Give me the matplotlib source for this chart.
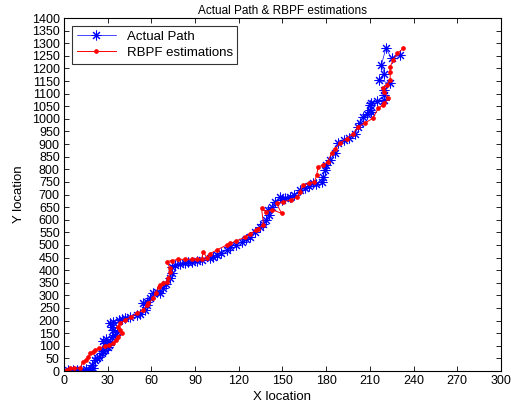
import matplotlib
matplotlib.use("Agg")
import matplotlib.pyplot as plt
import numpy as np

plt.rcParams['font.family'] = ['Liberation Sans', 'DejaVu Sans']

actual_x = [0, 3, 6, 9, 12, 15, 17, 19, 20, 21, 23, 24, 26, 27, 28.5, 30, 31, 28, 27, 29,
            31.6, 33, 35, 36.4, 34, 33, 31.8, 34, 37.5, 40, 42, 45.5, 50, 52, 55.6, 57, 54, 57,
            59, 61, 63.6, 66, 68, 70, 72.8, 74, 74, 76, 80, 83, 85, 88, 91, 95, 100, 102.5,
            105, 108, 111.7, 114, 118, 122, 125, 127.7, 131, 134.5, 137, 139, 141, 140, 142.5,
            145, 148, 150, 152, 155, 158, 162, 165.5, 168, 171, 173, 177, 178, 179, 180, 182.6,
            186, 188, 192, 196, 200, 202, 203, 205.5, 208, 210, 211, 210, 211, 215, 220, 220,
            220, 224, 216, 220, 218, 221, 225, 230.6]
actual_y = [0, 4, 2, 4, 3, 6, 4, 24, 12, 44, 52, 57, 71, 80, 83, 95, 103, 111, 120, 125,
            116, 136, 143, 156, 163, 176, 190, 195, 202, 205, 209, 215, 222, 226, 242, 262, 270, 275,
            290, 308, 315, 308, 328, 345, 368, 387, 413, 420, 425, 427, 433, 432, 437, 440, 448, 453,
            460, 470, 480, 493, 500, 513, 522, 532, 552, 572, 585, 599, 619, 639, 652,
            670, 691, 680, 688, 691, 700, 718, 725, 735, 744, 740, 751, 771, 797, 817, 837,
            863, 903, 915, 925, 942, 969, 982, 1009, 1020, 1035, 1029, 1055, 1062, 1070, 1075, 1095,
            1115, 1141, 1154, 1180, 1214, 1280, 1240, 1253]

est_x = [0, 2, 4, 7, 11, 13, 15, 16.7, 18, 20, 21, 24, 28, 31, 34, 36, 37, 39.6, 38.4, 37,
         38.4, 42, 46, 50, 54.4, 57, 58, 61, 63, 65, 66, 68, 70.5, 71.6, 72.8, 72.8, 70.5, 74,
         78.5, 83, 87.6, 91, 94.5, 95.6, 98, 100, 105, 111.7, 114, 118, 124, 128, 132, 133, 137,
         135.7, 139, 143, 149.4, 146, 150.5, 156, 160, 162, 164, 168, 172, 173.5, 174.6, 178,
         181, 183.7, 186, 189.5, 194, 198.6, 202, 207, 212, 215.8, 219, 220, 222.6, 220, 219,
         221.5, 224, 224, 224, 226, 229, 233]
est_y = [0, 5, 12, 10, 12, 37, 45, 57, 70, 77, 83, 90, 98, 104, 110, 123, 136, 150, 163, 176,
         189, 202, 215, 229, 242, 262, 268, 288, 310, 334, 340, 348, 354, 368, 394, 407, 434, 438,
         443, 443, 443, 443, 443, 473, 450, 465, 480, 500, 506, 515, 530, 545, 559, 565, 579,
         645, 632, 640, 625, 665, 672, 678, 690, 710, 738, 744, 751, 777, 810, 817,
         830, 863, 880, 903, 922, 942, 969, 985, 1002, 1042, 1055, 1062, 1081, 1108, 1121,
         1134, 1154, 1187, 1207, 1233, 1260, 1280]

x_ticks = list(range(0, 301, 30))
y_ticks = list(range(0, 1401, 50))

fig = plt.figure(figsize=(5.11, 4.09), dpi=100)
ax = fig.add_axes([0.1252, 0.0929, 0.855, 0.863])

ax.plot(actual_x, actual_y, '-', color=(0, 0, 1), lw=0.5, marker=(8, 2, 0), ms=7, mew=0.75,
        label='Actual Path')
ax.plot(est_x, est_y, '-o', color=(1, 0, 0), lw=0.7, ms=2.8, mew=0.5,
        label='RBPF estimations')

ax.set_xlim(0, 300)
ax.set_ylim(0, 1400)
ax.set_xticks(x_ticks)
ax.set_yticks(y_ticks)
ax.tick_params(direction='in', top=True, right=True, labelsize=9, length=3.5, width=0.6,
               pad=3)
for s in ax.spines.values():
    s.set_linewidth(0.8)

ax.set_title('Actual Path & RBPF estimations', fontsize=8.5, pad=3)
ax.set_xlabel('X location', fontsize=9.5, labelpad=3)
ax.set_ylabel('Y location', fontsize=9.5, labelpad=5)

leg = ax.legend(loc='upper left', fontsize=9.5, frameon=True, fancybox=False,
                edgecolor='black', borderpad=0.35, handlelength=3.0, labelspacing=0.3,
                borderaxespad=0.6)
leg.get_frame().set_linewidth(0.8)

fig.savefig('out.png', dpi=100)
